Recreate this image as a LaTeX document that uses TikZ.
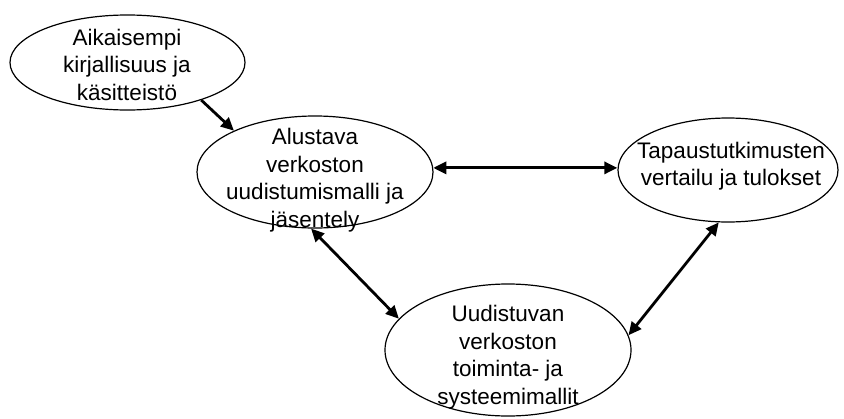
\documentclass[tikz,border=0pt]{standalone}
\usepackage{fontspec}
\setmainfont{Liberation Sans}
\usetikzlibrary{shapes.geometric,arrows.meta}
\begin{document}
\begin{tikzpicture}[x=1pt,y=-1pt,
  bubble/.style={draw, ellipse, line width=1.2pt, inner sep=0pt},
  label/.style={align=center, inner sep=0pt,
    font=\fontsize{22.5pt}{27.5pt}\selectfont},
  link/.style={line width=2.8pt, -{Triangle[length=13pt,width=12pt]}},
  duallink/.style={line width=2.8pt, {Triangle[length=13pt,width=12pt]}-{Triangle[length=13pt,width=12pt]}}]
  \useasboundingbox (0,0) rectangle (844,418);

  % ellipses
  \node[bubble, minimum width=235pt, minimum height=95pt]  (e1) at (127.5,62.5) {};
  \node[bubble, minimum width=236pt, minimum height=112pt] (e2) at (315,172) {};
  \node[bubble, minimum width=220pt, minimum height=104pt] (e3) at (728,170) {};
  \node[bubble, minimum width=246pt, minimum height=132pt] (e4) at (508,350) {};

  % texts
  \node[label] (t1) at (127,64.5) {Aikaisempi\\kirjallisuus ja\\käsitteistö};
  \node[label] (t2) at (315,180) {Alustava\\verkoston\\uudistumismalli ja\\jäsentely};
  \node[label] (t3) at (731,166) {Tapaustutkimusten\\vertailu ja tulokset};
  \node[label] (t4) at (508,357) {Uudistuvan\\verkoston\\toiminta- ja\\systeemimallit};

  % connectors
  \draw[link] (e1.-27.4) -- (e2.153.4);
  \draw[duallink] (e2.2.5) -- (e2.2.5 -| e3.west);
  \draw[duallink] (e2.-94.7) -- (e4.164.9);
  \draw[duallink] (e3.-100.3) -- (e4.7.9);
\end{tikzpicture}
\end{document}
